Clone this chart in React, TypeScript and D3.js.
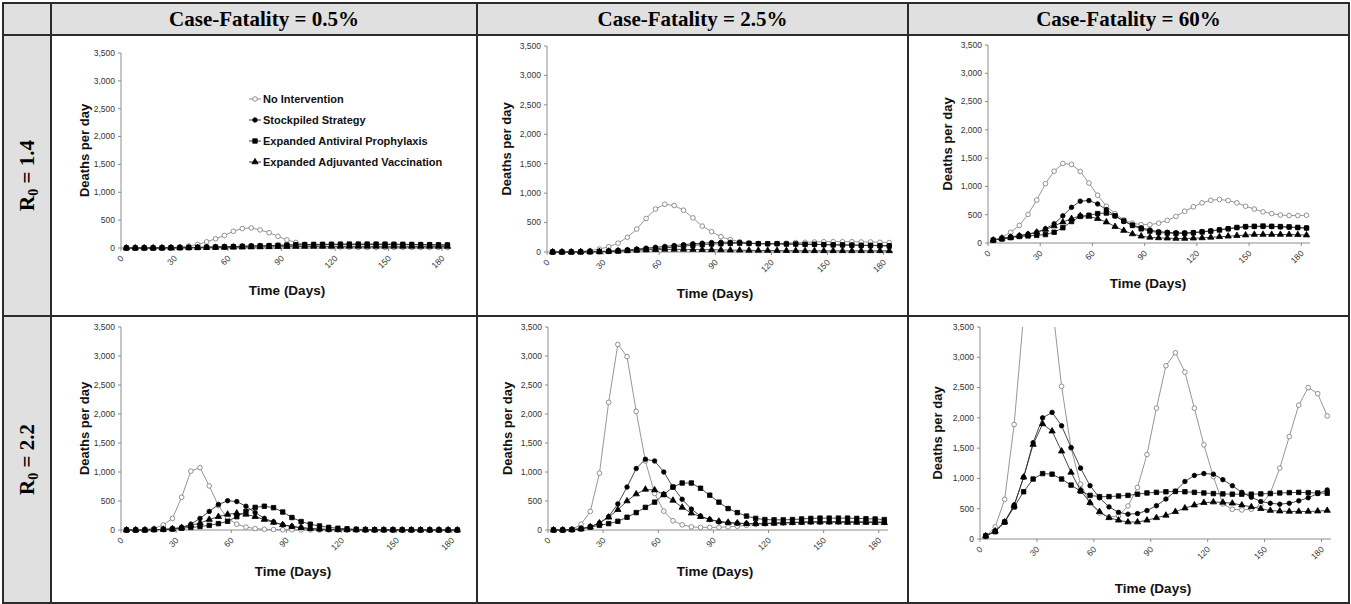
import * as d3 from "d3";

const SANS = "'Liberation Sans', Arial, Helvetica, sans-serif";
const SERIF = "'Liberation Serif', 'Times New Roman', serif";

const WIDTH = 1351;
const HEIGHT = 604;

// categories / ticks
const DAYS = [3, 8, 13, 18, 23, 28, 33, 38, 43, 48, 53, 58, 63, 68, 73, 78, 83, 88, 93, 98, 103, 108, 113, 118, 123, 128, 133, 138, 143, 148, 153, 158, 163, 168, 173, 178, 183];
const X_TICKS = [0, 30, 60, 90, 120, 150, 180];
const Y_TICKS = [0, 500, 1000, 1500, 2000, 2500, 3000, 3500];
const CASE_FATALITY = ["0.5%", "2.5%", "60%"];
const R0_VALUES = ["1.4", "2.2"];
const SERIES_NAMES = ["No Intervention", "Stockpiled Strategy", "Expanded Antiviral Prophylaxis", "Expanded Adjuvanted Vaccination"];

// R0 = 1.4, case-fatality 0.5%
const r14cf05None = [0, 0, 0, 2, 5, 10, 18, 35, 65, 110, 165, 225, 300, 350, 360, 325, 275, 210, 145, 100, 65, 45, 30, 22, 18, 15, 12, 10, 10, 10, 10, 10, 10, 10, 10, 10, 10];
const r14cf05Stock = [0, 0, 0, 0, 2, 4, 6, 9, 12, 16, 20, 24, 28, 32, 36, 40, 44, 48, 52, 55, 58, 60, 62, 63, 64, 65, 65, 65, 65, 64, 63, 62, 60, 58, 56, 54, 52];
const r14cf05Antiviral = [0, 0, 0, 0, 2, 3, 5, 7, 10, 13, 16, 20, 24, 28, 32, 37, 42, 47, 52, 57, 61, 64, 66, 68, 69, 70, 70, 70, 70, 69, 68, 66, 64, 62, 60, 58, 55];
const r14cf05Vaccine = [0, 0, 0, 0, 1, 2, 3, 4, 5, 7, 9, 11, 13, 15, 17, 19, 21, 23, 25, 26, 27, 28, 29, 30, 30, 30, 30, 30, 30, 30, 30, 29, 29, 28, 28, 27, 27];

// R0 = 1.4, case-fatality 2.5%
const r14cf25None = [0, 0, 5, 10, 25, 50, 90, 150, 250, 390, 570, 730, 810, 790, 710, 580, 440, 345, 260, 210, 175, 150, 140, 140, 145, 150, 160, 165, 170, 175, 175, 175, 175, 170, 170, 165, 160];
const r14cf25Stock = [0, 0, 0, 2, 5, 10, 15, 25, 35, 50, 65, 80, 95, 110, 125, 140, 150, 160, 165, 165, 160, 150, 145, 140, 140, 135, 135, 130, 130, 125, 125, 120, 120, 115, 115, 110, 110];
const r14cf25Antiviral = [0, 0, 0, 0, 2, 5, 10, 15, 25, 35, 45, 55, 70, 85, 100, 115, 125, 135, 140, 145, 150, 145, 140, 140, 140, 135, 135, 130, 130, 125, 120, 120, 115, 110, 110, 105, 100];
const r14cf25Vaccine = [0, 0, 0, 2, 4, 8, 12, 18, 25, 30, 35, 40, 45, 45, 45, 42, 40, 38, 35, 32, 30, 28, 26, 25, 24, 22, 22, 20, 20, 20, 20, 20, 20, 20, 20, 20, 20];

// R0 = 1.4, case-fatality 60%
const r14cf60None = [50, 100, 190, 310, 505, 760, 1050, 1270, 1405, 1390, 1265, 1060, 845, 650, 520, 410, 350, 325, 325, 350, 400, 470, 560, 640, 710, 755, 770, 750, 710, 650, 600, 550, 520, 495, 485, 485, 490];
const r14cf60Stock = [50, 80, 110, 130, 160, 190, 250, 340, 480, 630, 740, 750, 690, 590, 480, 380, 320, 270, 230, 200, 190, 180, 180, 185, 200, 215, 235, 255, 270, 285, 290, 290, 290, 285, 280, 270, 265];
const r14cf60Antiviral = [50, 70, 95, 115, 125, 135, 150, 190, 270, 380, 470, 490, 520, 530, 480, 390, 310, 250, 210, 185, 175, 170, 170, 180, 195, 210, 230, 250, 275, 290, 295, 300, 295, 290, 285, 275, 265];
const r14cf60Vaccine = [50, 80, 100, 125, 150, 190, 240, 300, 370, 430, 480, 470, 430, 370, 290, 220, 160, 120, 100, 90, 85, 80, 80, 85, 90, 100, 110, 120, 130, 140, 150, 150, 150, 150, 150, 145, 140];

// R0 = 2.2, case-fatality 0.5%
const r22cf05None = [0, 0, 5, 30, 85, 200, 565, 1015, 1075, 760, 420, 200, 100, 50, 25, 12, 8, 5, 3, 2, 1, 1, 0, 0, 0, 0, 0, 0, 0, 0, 0, 0, 0, 0, 0, 0, 0];
const r22cf05Stock = [0, 0, 0, 5, 10, 20, 45, 100, 200, 320, 440, 505, 490, 410, 300, 200, 140, 90, 60, 40, 25, 15, 10, 8, 5, 3, 2, 1, 1, 0, 0, 0, 0, 0, 0, 0, 0];
const r22cf05Antiviral = [0, 0, 0, 5, 10, 15, 30, 45, 60, 80, 110, 150, 230, 320, 390, 410, 385, 310, 215, 145, 100, 70, 45, 30, 20, 12, 8, 5, 5, 5, 4, 3, 2, 2, 1, 1, 1];
const r22cf05Vaccine = [0, 0, 0, 5, 10, 20, 40, 80, 120, 180, 230, 270, 290, 270, 230, 180, 130, 90, 60, 40, 25, 15, 10, 5, 3, 2, 1, 0, 0, 0, 0, 0, 0, 0, 0, 0, 0];

// R0 = 2.2, case-fatality 2.5%
const r22cf25None = [0, 0, 5, 100, 320, 980, 2200, 3200, 2990, 2045, 1190, 630, 325, 160, 90, 55, 45, 45, 45, 55, 65, 80, 95, 105, 115, 125, 130, 135, 140, 140, 145, 145, 150, 150, 150, 150, 150];
const r22cf25Stock = [0, 0, 5, 20, 55, 120, 230, 450, 740, 1060, 1220, 1190, 1000, 740, 530, 360, 240, 180, 140, 125, 115, 110, 110, 115, 120, 125, 130, 135, 140, 140, 140, 140, 140, 140, 135, 135, 130];
const r22cf25Antiviral = [0, 0, 5, 20, 50, 80, 110, 150, 220, 300, 390, 480, 610, 740, 810, 810, 720, 600, 480, 370, 300, 240, 200, 180, 175, 175, 180, 190, 200, 205, 205, 205, 205, 200, 195, 190, 180];
const r22cf25Vaccine = [0, 0, 5, 20, 55, 120, 220, 350, 500, 620, 700, 690, 610, 510, 390, 290, 230, 180, 150, 130, 120, 110, 110, 110, 115, 120, 125, 130, 135, 135, 135, 135, 130, 130, 130, 125, 125];

// R0 = 2.2, case-fatality 60%
const r22cf60None = [40, 200, 655, 1890, 3700, 4600, 4700, 3900, 2520, 1500, 905, 590, 430, 360, 380, 545, 850, 1395, 2160, 2860, 3075, 2755, 2160, 1555, 1030, 580, 490, 480, 490, 560, 760, 1170, 1690, 2210, 2500, 2400, 2030];
const r22cf60Stock = [50, 130, 280, 560, 1020, 1590, 2000, 2090, 1870, 1510, 1170, 880, 680, 530, 440, 410, 420, 470, 550, 660, 790, 950, 1050, 1080, 1070, 980, 880, 770, 690, 620, 590, 575, 590, 630, 680, 750, 810];
const r22cf60Antiviral = [50, 120, 280, 530, 780, 990, 1080, 1070, 990, 890, 790, 720, 700, 700, 710, 720, 740, 760, 770, 780, 785, 780, 770, 760, 750, 745, 740, 740, 740, 745, 750, 760, 765, 770, 765, 760, 755];
const r22cf60Vaccine = [50, 130, 280, 550, 1020, 1560, 1900, 1780, 1450, 1100, 800, 600, 450, 350, 310, 280, 280, 310, 350, 390, 450, 510, 560, 600, 610, 605, 590, 560, 530, 500, 470, 460, 455, 455, 455, 460, 470];

const PANEL_DATA = [
  [r14cf05None, r14cf05Stock, r14cf05Antiviral, r14cf05Vaccine],
  [r14cf25None, r14cf25Stock, r14cf25Antiviral, r14cf25Vaccine],
  [r14cf60None, r14cf60Stock, r14cf60Antiviral, r14cf60Vaccine],
  [r22cf05None, r22cf05Stock, r22cf05Antiviral, r22cf05Vaccine],
  [r22cf25None, r22cf25Stock, r22cf25Antiviral, r22cf25Vaccine],
  [r22cf60None, r22cf60Stock, r22cf60Antiviral, r22cf60Vaccine],
];

// plot areas, in page pixels
const PANELS = [
  { x0: 121, x1: 451, yTop: 53, yBot: 248, yTitleX: 85, xTitleX: 287, xTitleY: 295 },
  { x0: 547, x1: 893, yTop: 46, yBot: 252, yTitleX: 507, xTitleX: 715, xTitleY: 298 },
  { x0: 988, x1: 1310, yTop: 45, yBot: 243, yTitleX: 948, xTitleX: 1148, xTitleY: 288 },
  { x0: 121, x1: 461, yTop: 327, yBot: 530, yTitleX: 85, xTitleX: 293, xTitleY: 576 },
  { x0: 548, x1: 888, yTop: 327, yBot: 530, yTitleX: 508, xTitleX: 715, xTitleY: 576 },
  { x0: 980, x1: 1331, yTop: 327, yBot: 539, yTitleX: 938, xTitleX: 1153, xTitleY: 593 },
];

const TABLE = { left: 3, right: 1349, top: 3, bottom: 603, headBot: 35, labelCol: 51, cols: [477, 908], rowDiv: 316 };

const STYLES = [
  { symbol: d3.symbolCircle, size: 17, fill: "#fff", stroke: "#777", line: "#8a8a8a" },
  { symbol: d3.symbolCircle, size: 16, fill: "#000", stroke: "#000", line: "#333" },
  { symbol: d3.symbolSquare, size: 20, fill: "#000", stroke: "#000", line: "#333" },
  { symbol: d3.symbolTriangle, size: 17, fill: "#000", stroke: "#000", line: "#333" },
];

const fmt = d3.format(",");

function Panel({ idx, layout, series, legend }: { idx: number; layout: typeof PANELS[0]; series: number[][]; legend: boolean }) {
  const { x0, x1, yTop, yBot } = layout;
  const x = d3.scaleLinear().domain([0, 185]).range([x0, x1]);
  const y = d3.scaleLinear().domain([0, 3500]).range([yBot, yTop]);
  const line = d3.line<number>().x((_, i) => x(DAYS[i])).y((d) => y(d));
  const clipId = `plot-clip-${idx}`;
  const yMid = (yTop + yBot) / 2;

  return (
    <g>
      <clipPath id={clipId}>
        <rect x={x0 - 6} y={yTop} width={x1 - x0 + 12} height={yBot - yTop + 8} />
      </clipPath>
      {/* axes */}
      <line x1={x0} x2={x0} y1={yTop} y2={yBot} stroke="#8c8c8c" strokeWidth={1} />
      <line x1={x0} x2={x1} y1={yBot} y2={yBot} stroke="#8c8c8c" strokeWidth={1} />
      {Y_TICKS.map((t) => (
        <g key={t}>
          <line x1={x0 - 3} x2={x0} y1={y(t)} y2={y(t)} stroke="#8c8c8c" />
          <text x={x0 - 6} y={y(t)} dy="0.33em" textAnchor="end" fontSize={8.5} fill="#333" fontFamily={SANS}>
            {fmt(t)}
          </text>
        </g>
      ))}
      {X_TICKS.map((t) => (
        <g key={t}>
          <line x1={x(t)} x2={x(t)} y1={yBot} y2={yBot + 3} stroke="#8c8c8c" />
          <text
            transform={`translate(${x(t) + 3},${yBot + 11}) rotate(-45)`}
            textAnchor="end"
            fontSize={8.5}
            fill="#333"
            fontFamily={SANS}
          >
            {t}
          </text>
        </g>
      ))}
      <text
        transform={`translate(${layout.yTitleX + 4},${yMid}) rotate(-90)`}
        textAnchor="middle"
        fontSize={13}
        fontWeight="bold"
        fontFamily={SANS}
        fill="#111"
      >
        Deaths per day
      </text>
      <text x={layout.xTitleX} y={layout.xTitleY} textAnchor="middle" fontSize={13.5} fontWeight="bold" fontFamily={SANS} fill="#111">
        Time (Days)
      </text>
      {/* series */}
      <g clipPath={`url(#${clipId})`}>
        {series.map((vals, si) => {
          const st = STYLES[si];
          const sym = d3.symbol().type(st.symbol).size(st.size)();
          return (
            <g key={si}>
              <path d={line(vals) ?? ""} fill="none" stroke={st.line} strokeWidth={0.9} />
              {vals.map((v, i) =>
                v > 3500 ? null : (
                  <path
                    key={i}
                    d={sym ?? ""}
                    transform={`translate(${x(DAYS[i])},${y(v)})`}
                    fill={st.fill}
                    stroke={st.stroke}
                    strokeWidth={0.8}
                  />
                )
              )}
            </g>
          );
        })}
      </g>
      {legend && (
        <g>
          {SERIES_NAMES.map((name, si) => {
            const st = STYLES[si];
            const ly = 99 + si * 21;
            const sym = d3.symbol().type(st.symbol).size(st.size)();
            return (
              <g key={name}>
                <line x1={249} x2={261} y1={ly} y2={ly} stroke={st.line} strokeWidth={1} />
                <path d={sym ?? ""} transform={`translate(255,${ly})`} fill={st.fill} stroke={st.stroke} strokeWidth={0.8} />
                <text x={263} y={ly} dy="0.35em" fontSize={11} fontWeight="bold" fontFamily={SANS} fill="#111">
                  {name}
                </text>
              </g>
            );
          })}
        </g>
      )}
    </g>
  );
}

export default function App() {
  const colEdges = [TABLE.labelCol, ...TABLE.cols, TABLE.right];
  const rowEdges = [TABLE.headBot, TABLE.rowDiv, TABLE.bottom];
  const border = "#2b2b2b";

  return (
    <svg width={WIDTH} height={HEIGHT} style={{ position: "absolute", left: 0, top: 0, background: "#fff" }}>
      {/* grey header row and label column */}
      <rect x={TABLE.left} y={TABLE.top} width={TABLE.right - TABLE.left} height={TABLE.headBot - TABLE.top} fill="#e0e0e0" />
      <rect x={TABLE.left} y={TABLE.top} width={TABLE.labelCol - TABLE.left} height={TABLE.bottom - TABLE.top} fill="#e0e0e0" />

      {CASE_FATALITY.map((cf, i) => (
        <text
          key={cf}
          x={(colEdges[i] + colEdges[i + 1]) / 2}
          y={26}
          textAnchor="middle"
          fontSize={21}
          fontWeight="bold"
          fontFamily={SERIF}
          fill="#000"
        >
          {`Case-Fatality = ${cf}`}
        </text>
      ))}

      {R0_VALUES.map((r, i) => (
        <text
          key={r}
          transform={`translate(34,${(rowEdges[i] + rowEdges[i + 1]) / 2}) rotate(-90)`}
          textAnchor="middle"
          fontSize={21}
          fontWeight="bold"
          fontFamily={SERIF}
          fill="#000"
        >
          R
          <tspan fontSize={14} dy={4}>
            0
          </tspan>
          <tspan dy={-4}>{` = ${r}`}</tspan>
        </text>
      ))}

      {PANELS.map((p, i) => (
        <Panel key={i} idx={i} layout={p} series={PANEL_DATA[i]} legend={i === 0} />
      ))}

      {/* table grid */}
      <rect
        x={TABLE.left}
        y={TABLE.top}
        width={TABLE.right - TABLE.left}
        height={TABLE.bottom - TABLE.top}
        fill="none"
        stroke={border}
        strokeWidth={2}
      />
      {[TABLE.labelCol, ...TABLE.cols].map((cx) => (
        <line key={cx} x1={cx} x2={cx} y1={TABLE.top} y2={TABLE.bottom} stroke={border} strokeWidth={2} />
      ))}
      {[TABLE.headBot, TABLE.rowDiv].map((ry) => (
        <line key={ry} x1={TABLE.left} x2={TABLE.right} y1={ry} y2={ry} stroke={border} strokeWidth={2} />
      ))}
    </svg>
  );
}
